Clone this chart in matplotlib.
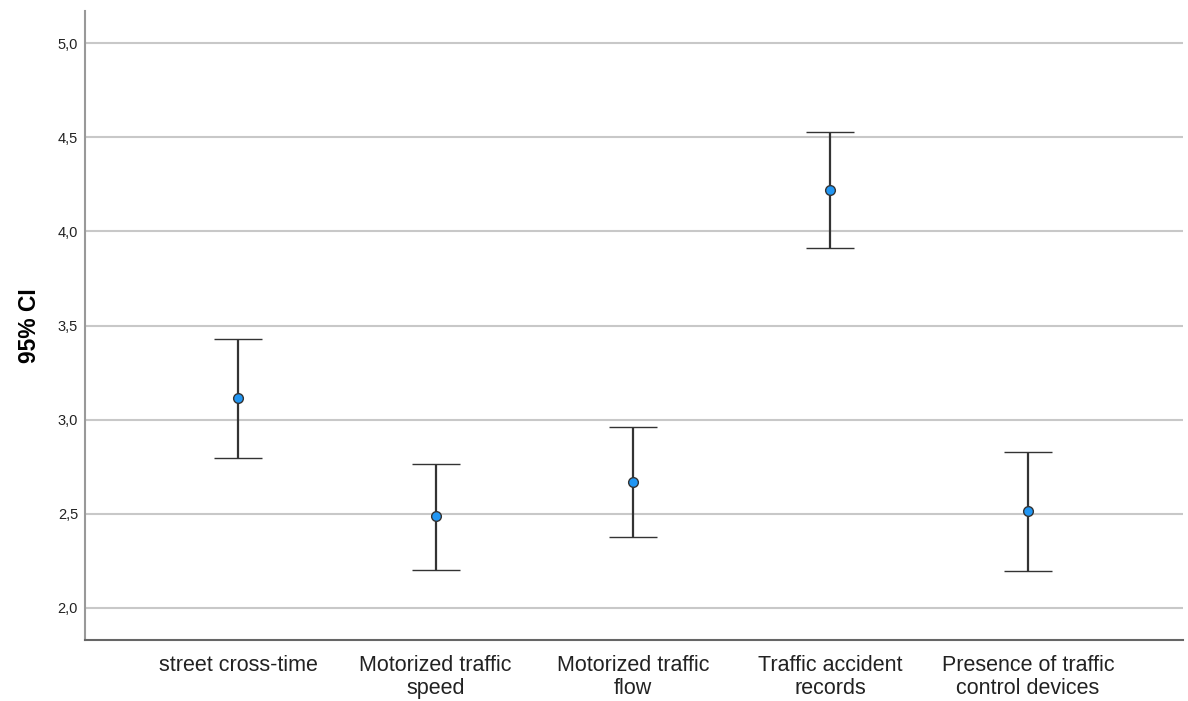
import matplotlib.pyplot as plt

# category labels and CI values (mean, lower, upper)
categories = ['street cross-time', 'Motorized traffic\nspeed', 'Motorized traffic\nflow',
              'Traffic accident\nrecords', 'Presence of traffic\ncontrol devices']
means = [3.115, 2.488, 2.669, 4.219, 2.515]
lower = [2.797, 2.202, 2.377, 3.911, 2.196]
upper = [3.428, 2.765, 2.961, 4.527, 2.828]
yticks = [2.0, 2.5, 3.0, 3.5, 4.0, 4.5, 5.0]

plt.rcParams['font.family'] = ['Liberation Sans', 'DejaVu Sans']

fig = plt.figure(figsize=(11.88, 7.01), dpi=100)
ax = fig.add_axes([85/1188, 61/701, 1098/1188, 629/701])

x = list(range(len(categories)))
err_lo = [m - l for m, l in zip(means, lower)]
err_hi = [u - m for m, u in zip(means, upper)]
ax.errorbar(x, means, yerr=[err_lo, err_hi], fmt='o', color='#333333',
            ecolor='#333333', elinewidth=1.6, capsize=17.5, capthick=1.6,
            markersize=7, markerfacecolor='#2196f3', markeredgecolor='#333333',
            markeredgewidth=1.0, zorder=3)

ax.set_xlim(-0.775, 4.785)
ax.set_ylim(1.83, 5.17)
ax.set_yticks(yticks)
ax.set_yticklabels([('%.1f' % v).replace('.', ',') for v in yticks], fontsize=10.5, color='#222222')
ax.set_xticks(x)
ax.set_xticklabels(categories, fontsize=15.5, color='#222222', linespacing=1.1)
ax.tick_params(axis='both', length=0)
ax.tick_params(axis='y', pad=5)
ax.tick_params(axis='x', pad=11)
ax.yaxis.grid(True, color='#c8c8c8', linewidth=1.5)
ax.set_axisbelow(True)

for side in ('top', 'right'):
    ax.spines[side].set_visible(False)
ax.spines['left'].set_color('#999999')
ax.spines['left'].set_linewidth(1.5)
ax.spines['bottom'].set_color('#666666')
ax.spines['bottom'].set_linewidth(1.5)

ax.set_ylabel('95% CI', fontsize=16.5, fontweight='bold', labelpad=12)

fig.savefig('out.png', dpi=100)
